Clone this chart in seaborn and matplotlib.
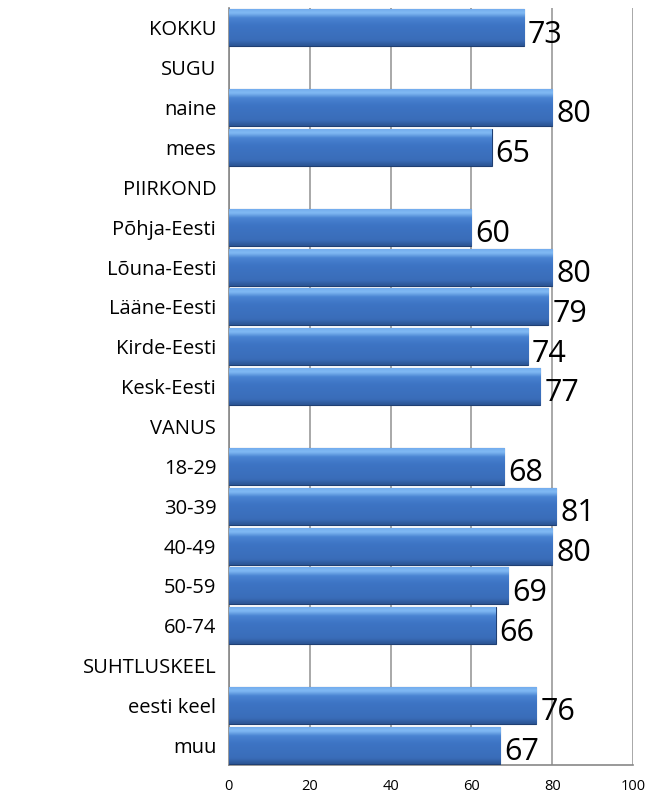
import numpy as np
import pandas as pd
import seaborn as sns
import matplotlib.pyplot as plt
from matplotlib.colors import LinearSegmentedColormap

categories = ['KOKKU', 'SUGU', 'naine', 'mees', 'PIIRKOND', 'Põhja-Eesti',
              'Lõuna-Eesti', 'Lääne-Eesti', 'Kirde-Eesti', 'Kesk-Eesti', 'VANUS',
              '18-29', '30-39', '40-49', '50-59', '60-74', 'SUHTLUSKEEL',
              'eesti keel', 'muu']
values = [73, np.nan, 80, 65, np.nan, 60, 80, 79, 74, 77, np.nan,
          68, 81, 80, 69, 66, np.nan, 76, 67]
x_ticks = [0, 20, 40, 60, 80, 100]

df = pd.DataFrame({'cat': categories, 'val': values})

sns.set_style('white')
plt.rcParams['font.family'] = ['Open Sans', 'DejaVu Sans']

fig = plt.figure(figsize=(6.61, 7.98), dpi=100)
ax = fig.add_axes([0.346, 0.041, 0.612, 0.949])

sns.barplot(data=df, x='val', y='cat', order=categories, orient='h',
            color='#3C73C3', width=0.93, edgecolor='#1F3F73', linewidth=0.8,
            ax=ax, zorder=3)

# gradient fill inside each bar: light highlight on top, darker at bottom
grad = LinearSegmentedColormap.from_list(
    'bar', [(0.0, '#6FA8EC'), (0.12, '#82BBF4'), (0.25, '#4A84D2'),
            (0.45, '#3D74C4'), (0.85, '#3A6DB9'), (1.0, '#2B5493')])
g = np.linspace(0, 1, 64).reshape(-1, 1)
for p in ax.patches:
    w = p.get_width()
    if not np.isfinite(w) or w <= 0:
        continue
    y0, h = p.get_y(), p.get_height()
    im = ax.imshow(g, cmap=grad, aspect='auto', origin='upper',
                   extent=[0, w, y0 + h, y0], zorder=3.5, interpolation='bicubic')
    im.set_clip_path(p)

# value labels
for i, v in enumerate(values):
    if np.isfinite(v):
        ax.text(v + 1.0, i + 0.17, f'{int(v)}', va='center', ha='left',
                fontsize=22, color='black', zorder=5)

ax.set_xlim(0, 100)
ax.set_ylim(len(categories) - 0.5, -0.5)
ax.set_xticks(x_ticks)
ax.set_xticklabels([str(t) for t in x_ticks], fontsize=10.5, color='black')
ax.set_xlabel('')
ax.set_ylabel('')
ax.tick_params(axis='y', labelsize=14.5, labelcolor='black', length=0, pad=9)
ax.tick_params(axis='x', length=5, color='#888888', width=1.2, pad=5)

# minor ticks between rows on y axis
ax.set_yticks(np.arange(-0.5, len(categories), 1), minor=True)
ax.tick_params(axis='y', which='minor', length=7, color='#888888', width=1.2)

ax.grid(axis='x', color='#999999', linewidth=1.2, zorder=0)
ax.set_axisbelow(True)
for s in ['top', 'right']:
    ax.spines[s].set_visible(False)
for s in ['left', 'bottom']:
    ax.spines[s].set_color('#888888')
    ax.spines[s].set_linewidth(1.2)

fig.savefig('out.png', dpi=100)
